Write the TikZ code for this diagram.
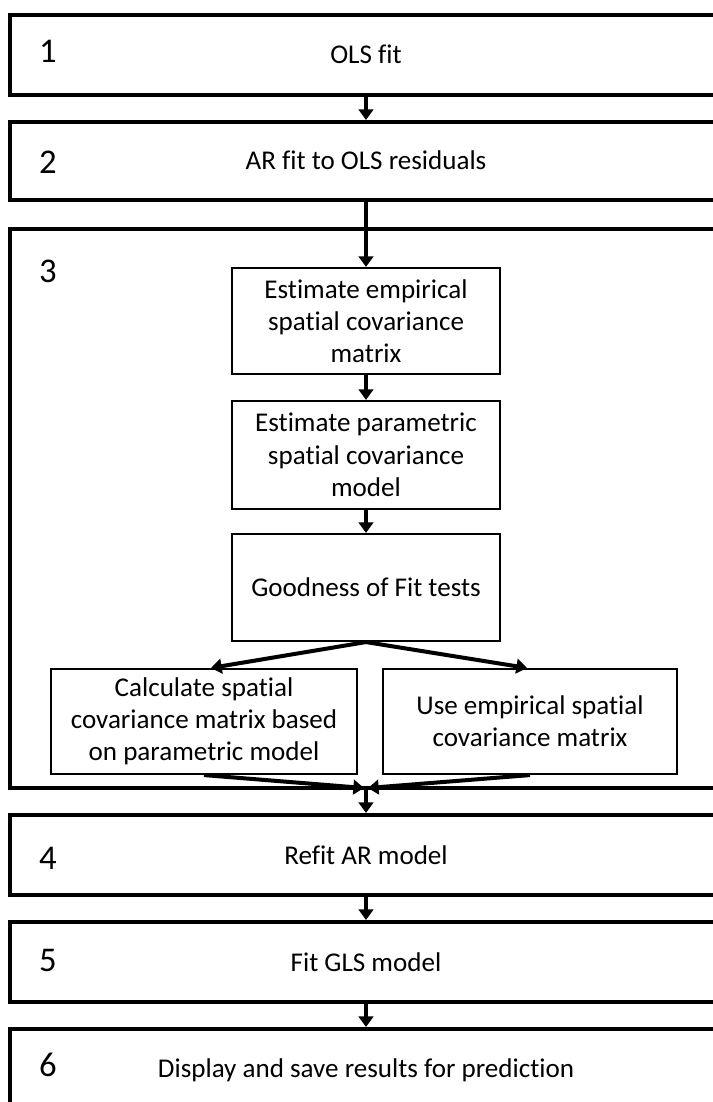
\documentclass[tikz,border=0pt]{standalone}
\usepackage{fontspec}
\setmainfont{Carlito}[Ligatures=NoCommon]
\usetikzlibrary{arrows.meta}
\begin{document}
\begin{tikzpicture}[x=0.75pt,y=-0.75pt,
  every node/.style={font=\fontsize{20.3}{24.2}\selectfont},
  bigbox/.style={draw, line width=3pt, minimum width=534pt, inner sep=0pt},
  smallbox/.style={draw, line width=1.6pt, align=center, inner sep=0pt},
  lbl/.style={anchor=base, inner sep=0pt},
  numlbl/.style={anchor=base, inner sep=0pt, font=\fontsize{26}{30}\selectfont},
  flow/.style={line width=3pt, -{Triangle[length=8pt,width=11pt]}}]
\useasboundingbox (0,0) rectangle (713,1102);
\begin{scope}
\clip (0,0) rectangle (713,1102);
% big step boxes
\node[bigbox, minimum height=60pt]  (box1) at (366,55) {};
\node[bigbox, minimum height=58.5pt] (box2) at (366,161) {};
\node[bigbox, minimum height=419.25pt] (box3) at (366,508) {};
\node[bigbox, minimum height=60pt]  (box4) at (366,855) {};
\node[bigbox, minimum height=60pt]  (box5) at (366,962) {};
\node[bigbox, minimum height=75.75pt] (box6) at (366,1079.5) {};
\end{scope}
% labels
\node[numlbl] (n1) at (48,63) {1};
\node[lbl] (t1) at (366,63.5) {OLS fit};
\node[numlbl] (n2) at (48,173) {2};
\node[lbl] (t2) at (366,170) {AR fit to OLS residuals};
\node[numlbl] (n3) at (48,282) {3};
\node[numlbl] (n4) at (48,869) {4};
\node[lbl] (t4) at (366,864) {Refit AR model};
\node[numlbl] (n5) at (48,971) {5};
\node[lbl] (t5) at (366,971) {Fit GLS model};
\node[numlbl] (n6) at (48,1076) {6};
\node[lbl] (t6) at (366,1077) {Display and save results for prediction};
% inner boxes
\node[smallbox, minimum width=201pt, minimum height=79.5pt] (emp) at (366,321)
  {Estimate empirical\\spatial covariance\\matrix};
\node[smallbox, minimum width=201pt, minimum height=81pt] (par) at (366,455)
  {Estimate parametric\\spatial covariance\\model};
\node[smallbox, minimum width=201pt, minimum height=80.25pt] (gof) at (366,587.5)
  {Goodness of Fit tests};
\node[smallbox, minimum width=229.5pt, minimum height=78.75pt] (calc) at (204,721.5)
  {Calculate spatial\\covariance matrix based\\on parametric model};
\node[smallbox, minimum width=220.5pt, minimum height=78.75pt] (use) at (530,721.5)
  {Use empirical spatial\\covariance matrix};
\coordinate (mL) at (364,788);
\coordinate (mR) at (368,788);
% connectors
\draw[flow] (box1.south) -- (box2.north);
\draw[flow] (box2.south) -- (emp.north);
\draw[flow] (emp.south) -- (par.north);
\draw[flow] (par.south) -- (gof.north);
\draw[flow] (gof.south) -- ([xshift=5.25pt]calc.north);
\draw[flow] (gof.south) -- ([xshift=-2.25pt]use.north);
\draw[flow] (calc.south) -- (mL);
\draw[flow] (use.south) -- (mR);
\draw[flow] (box3.south) -- (box4.north);
\draw[flow] (box4.south) -- (box5.north);
\draw[flow] (box5.south) -- (box6.north);
\end{tikzpicture}
\end{document}
